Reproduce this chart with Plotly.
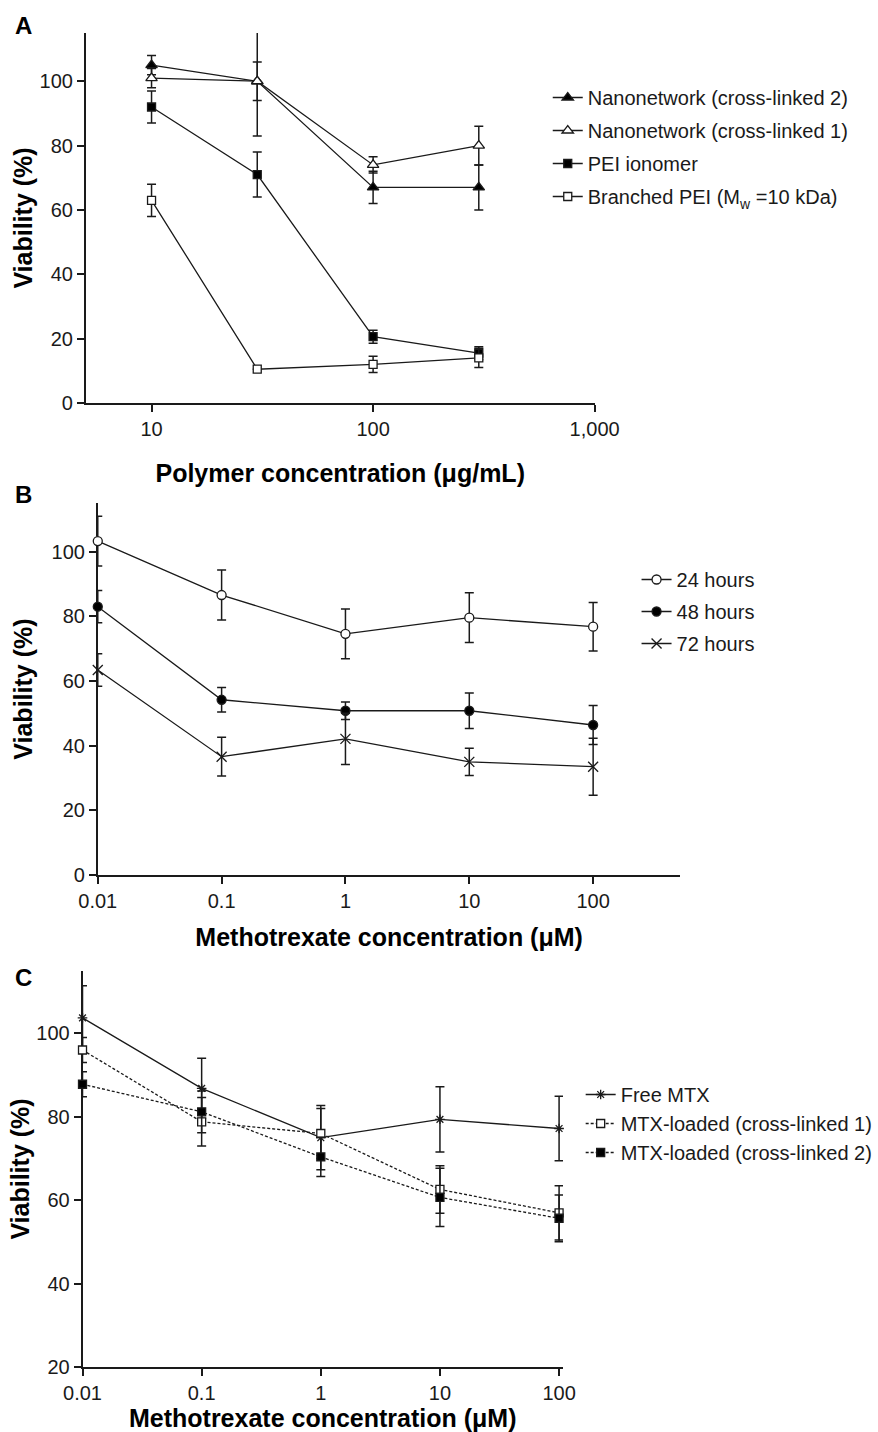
import math
import plotly.graph_objects as go

W, H = 878, 1432
FONT = "Liberation Sans, Arial, sans-serif"
INK = "#1a1a1a"

# ---------------- Panel A data ----------------
conc_a = [10, 30, 100, 300]
a_names = ["Nanonetwork (cross-linked 2)", "Nanonetwork (cross-linked 1)",
           "PEI ionomer", "Branched PEI (M<sub>w</sub> =10 kDa)"]
a_cl2 = [105, 100, 67, 67]
a_cl2_err = [3, 17, 5, 7]
a_cl1 = [101, 100, 74, 80]
a_cl1_err = [3, 6, 2.5, 6]
a_ionomer = [92, 71, 20.6, 15.5]
a_ionomer_err = [5, 7, 2, 2]
a_branched = [63, 10.5, 12, 14]
a_branched_err = [5, 0, 2.5, 3]
a_xticks = [10, 100, 1000]
a_xticktext = ["10", "100", "1,000"]

# ---------------- Panel B data ----------------
conc_b = [0.01, 0.1, 1, 10, 100]
b_names = ["24 hours", "48 hours", "72 hours"]
b_24 = [103.3, 86.6, 74.6, 79.6, 76.8]
b_24_err = [7.7, 7.7, 7.7, 7.7, 7.5]
b_48 = [83, 54.2, 50.8, 50.8, 46.4]
b_48_err = [5, 3.8, 2.7, 5.5, 6]
b_72 = [63.4, 36.6, 42.1, 35.0, 33.5]
b_72_err = [5, 6, 7.9, 4.2, 8.8]

# ---------------- Panel C data ----------------
conc_c = [0.01, 0.1, 1, 10, 100]
c_names = ["Free MTX", "MTX-loaded (cross-linked 1)", "MTX-loaded (cross-linked 2)"]
c_free = [103.7, 86.8, 75.0, 79.4, 77.2]
c_free_err = [7.7, 7.2, 7.7, 7.8, 7.7]
c_cl1 = [96.0, 78.8, 76.0, 62.6, 57.0]
c_cl1_err = [3, 5.8, 6, 5.7, 6.5]
c_cl2 = [87.8, 81.2, 70.4, 60.7, 55.7]
c_cl2_err = [3, 5, 4.7, 7, 5.6]
mtx_ticks = [0.01, 0.1, 1, 10, 100]
mtx_ticktext = ["0.01", "0.1", "1", "10", "100"]


def px_x(p):
    return p / W


def px_y(p):
    return 1 - p / H


fig = go.Figure()


def add(x, y, err, name, symbol, xa, ya, legend, group, fill="black",
        size=9, dash="solid", clip=False):
    fig.add_trace(go.Scatter(
        x=x, y=y, name=name, xaxis=xa, yaxis=ya, legend=legend, legendgroup=group,
        mode="lines+markers", cliponaxis=clip,
        line=dict(color=INK, width=1.3, dash=dash),
        marker=dict(symbol=symbol, size=size, color=fill,
                    line=dict(color=INK, width=1.3)),
        error_y=dict(type="data", array=err, visible=True, color=INK,
                     thickness=1.5, width=4.5),
    ))


# Panel A
add(conc_a, a_cl2, a_cl2_err, a_names[0], "triangle-up", "x", "y", "legend", "a1", size=10, clip=True)
add(conc_a, a_cl1, a_cl1_err, a_names[1], "triangle-up", "x", "y", "legend", "a2", fill="white", size=10, clip=True)
add(conc_a, a_ionomer, a_ionomer_err, a_names[2], "square", "x", "y", "legend", "a3", size=8, clip=True)
add(conc_a, a_branched, a_branched_err, a_names[3], "square", "x", "y", "legend", "a4", fill="white", size=8, clip=True)

# Panel B
add(conc_b, b_24, b_24_err, b_names[0], "circle", "x2", "y2", "legend2", "b1", fill="white", size=9)
add(conc_b, b_48, b_48_err, b_names[1], "circle", "x2", "y2", "legend2", "b2", size=9)
add(conc_b, b_72, b_72_err, b_names[2], "x-thin-open", "x2", "y2", "legend2", "b3", fill=INK, size=10)

# Panel C
add(conc_c, c_free, c_free_err, c_names[0], "asterisk-open", "x3", "y3", "legend3", "c1", fill=INK, size=8)
add(conc_c, c_cl1, c_cl1_err, c_names[1], "square", "x3", "y3", "legend3", "c2", fill="white", size=8, dash="3px,2px")
add(conc_c, c_cl2, c_cl2_err, c_names[2], "square", "x3", "y3", "legend3", "c3", size=8, dash="3px,2px")

axis_common = dict(showline=True, linecolor=INK, linewidth=1.7, ticks="outside",
                   ticklen=7, tickwidth=1.5, tickcolor=INK, showgrid=False,
                   zeroline=False, automargin=False, layer="below traces",
                   tickfont=dict(family=FONT, size=20, color=INK))

title_font = dict(family=FONT, size=25, color="black")

# geometry (pixels)
A_x0, A_x1, A_y0, A_y1 = 86, 596, 403, 33
B_x0, B_x1, B_y0, B_y1 = 98, 682, 875, 503.2
C_x0, C_x1, C_y0, C_y1 = 82.7, 564.3, 1367.3, 970.7

fig.update_layout(
    width=W, height=H,
    margin=dict(l=0, r=0, t=0, b=0),
    paper_bgcolor="white", plot_bgcolor="white",
    font=dict(family=FONT, size=20, color=INK),
    xaxis=dict(axis_common, type="log", range=[math.log10(5.05), 3],
               domain=[px_x(A_x0), px_x(A_x1)], anchor="y",
               tickvals=a_xticks, ticktext=a_xticktext,
               title=dict(text="<b>Polymer concentration (μg/mL)</b>", font=title_font, standoff=26)),
    yaxis=dict(axis_common, range=[0, 115], domain=[px_y(A_y0), px_y(A_y1)], anchor="x",
               tickvals=[0, 20, 40, 60, 80, 100],
               title=dict(text="<b>Viability (%)</b>", font=title_font, standoff=0)),
    xaxis2=dict(axis_common, type="log", range=[-2, 2.705],
                domain=[px_x(B_x0), px_x(B_x1)], anchor="y2",
                tickvals=mtx_ticks, ticktext=mtx_ticktext,
                title=dict(text="<b>Methotrexate concentration (μM)</b>", font=title_font, standoff=18)),
    yaxis2=dict(axis_common, range=[0, 115], domain=[px_y(B_y0), px_y(B_y1)], anchor="x2",
                tickvals=[0, 20, 40, 60, 80, 100],
                title=dict(text="<b>Viability (%)</b>", font=title_font, standoff=12)),
    xaxis3=dict(axis_common, type="log", range=[-2, 2.033],
                domain=[px_x(C_x0), px_x(C_x1)], anchor="y3",
                tickvals=mtx_ticks, ticktext=mtx_ticktext,
                title=dict(text="<b>Methotrexate concentration (μM)</b>", font=title_font, standoff=3)),
    yaxis3=dict(axis_common, range=[20, 115], domain=[px_y(C_y0), px_y(C_y1)], anchor="x3",
                tickvals=[20, 40, 60, 80, 100],
                title=dict(text="<b>Viability (%)</b>", font=title_font, standoff=0)),
    legend=dict(x=px_x(549), y=px_y(78), xanchor="left", yanchor="top",
                font=dict(family=FONT, size=20, color=INK), tracegroupgap=4,
                bgcolor="rgba(0,0,0,0)"),
    legend2=dict(x=px_x(638), y=px_y(560), xanchor="left", yanchor="top",
                 font=dict(family=FONT, size=20, color=INK), tracegroupgap=3,
                 bgcolor="rgba(0,0,0,0)"),
    legend3=dict(x=px_x(582), y=px_y(1075), xanchor="left", yanchor="top",
                 font=dict(family=FONT, size=20, color=INK), tracegroupgap=0,
                 bgcolor="rgba(0,0,0,0)"),
    showlegend=True,
)

for label, (lx, ly) in zip(["A", "B", "C"], [(24, 25), (24, 495), (24, 978)]):
    fig.add_annotation(text=f"<b>{label}</b>", x=px_x(lx), y=px_y(ly), xref="paper", yref="paper",
                       xanchor="center", yanchor="middle", showarrow=False,
                       font=dict(family=FONT, size=24, color="black"))

fig.write_html("out.html")
